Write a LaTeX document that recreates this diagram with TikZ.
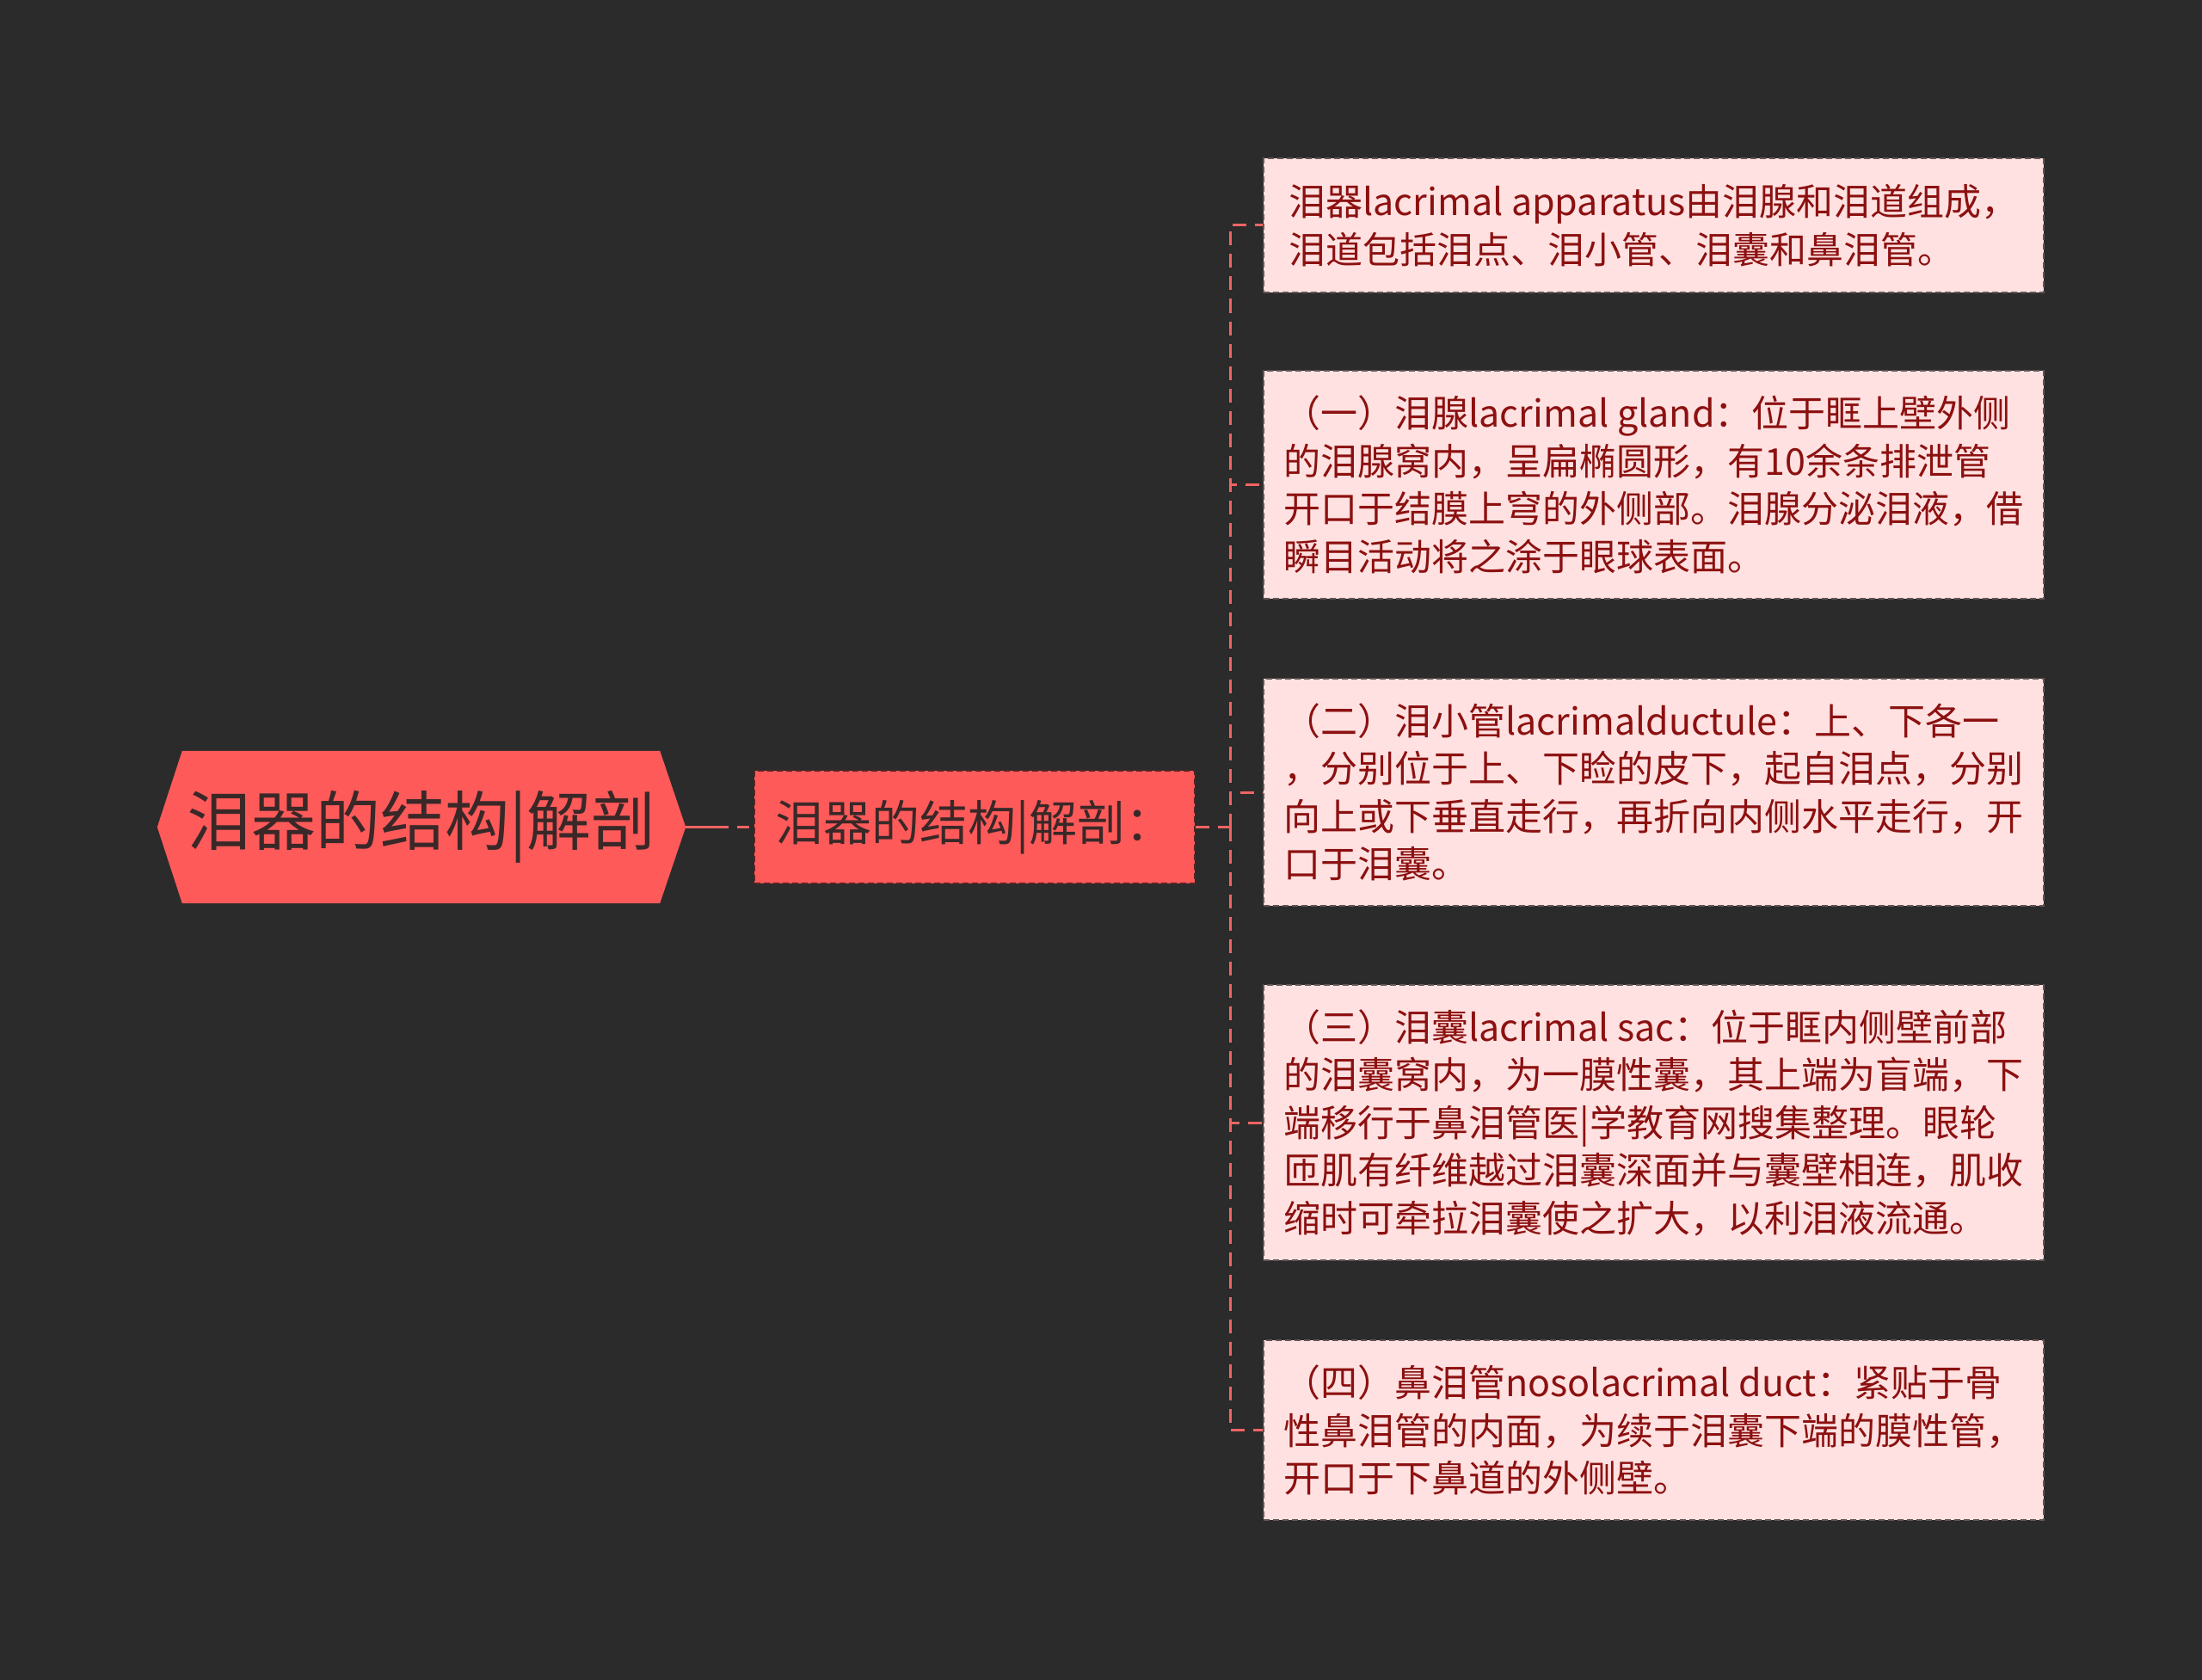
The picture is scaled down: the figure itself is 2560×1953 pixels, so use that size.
\documentclass[tikz,border=0pt]{standalone}
\usepackage{fontspec}
\setmainfont{Noto Sans CJK SC}
\usetikzlibrary{backgrounds}
\definecolor{bgc}{RGB}{43,43,43}
\definecolor{rootc}{RGB}{255,90,90}
\definecolor{roottxt}{RGB}{58,40,40}
\definecolor{midborder}{RGB}{90,35,35}
\definecolor{leaffill}{RGB}{255,225,225}
\definecolor{leafborder}{RGB}{100,85,85}
\definecolor{leaftxt}{RGB}{140,16,16}
\definecolor{connc}{RGB}{240,100,100}
\tikzset{
  roottext/.style={minimum width=614pt, minimum height=177pt, inner sep=0pt,
    text=roottxt, font=\fontsize{75}{82}\selectfont},
  midbox/.style={fill=rootc, draw=midborder, line width=2pt, dash pattern=on 7pt off 4pt,
    minimum width=512pt, minimum height=131pt, inner sep=0pt,
    text=roottxt, font=\fontsize{56}{62}\selectfont},
  leafbox/.style={fill=leaffill, draw=leafborder, line width=2pt, dash pattern=on 7pt off 4pt,
    minimum width=907pt, inner sep=0pt, align=left,
    text=leaftxt, font=\fontsize{43}{55.5}\selectfont},
  conn/.style={draw=connc, line width=3pt, dash pattern=on 16pt off 10pt},
}
\begin{document}
\begin{tikzpicture}[x=1pt,y=-1pt]
\begin{scope}[on background layer]
\fill[bgc] (0,0) rectangle (2560,1953);
\end{scope}
\useasboundingbox (0,0) rectangle (2560,1953);

\node[roottext] (root) at (490,961.5) {泪器的结构|解剖};
\begin{scope}[on background layer]
\fill[rootc] ([xshift=29pt]root.north west) -- ([xshift=-30pt]root.north east) -- (root.east)
  -- ([xshift=-30pt]root.south east) -- ([xshift=29pt]root.south west) -- (root.west) -- cycle;
\end{scope}

\node[midbox] (mid) at (1133,961.5) {泪器的结构|解剖：};
\coordinate (sp) at (1430,961.5);

\node[leafbox, minimum height=156pt] (l1) at (1922.5,262) {泪器lacrimal apparatus由泪腺和泪道组成，\\泪道包括泪点、泪小管、泪囊和鼻泪管。};
\node[leafbox, minimum height=265pt] (l2) at (1922.5,563.5) {（一）泪腺lacrimal gland：位于眶上壁外侧\\的泪腺窝内，呈扁椭圆形，有10余条排泄管\\开口于结膜上穹的外侧部。泪腺分泌泪液，借\\瞬目活动将之涂于眼球表面。};
\node[leafbox, minimum height=264pt] (l3) at (1922.5,921) {（二）泪小管lacrimalductule：上、下各一\\，分别位于上、下睑的皮下，起自泪点，分别\\向上或下垂直走行，再折向内侧水平走行，开\\口于泪囊。};
\node[leafbox, minimum height=320pt] (l4) at (1922.5,1305) {（三）泪囊lacrimal sac：位于眶内侧壁前部\\的泪囊窝内，为一膜性囊，其上端为盲端，下\\端移行于鼻泪管医|学教育网搜集整理。眼轮\\匝肌有纤维越过泪囊深面并与囊壁相连，肌收\\缩时可牵拉泪囊使之扩大，以利泪液流通。};
\node[leafbox, minimum height=209pt] (l5) at (1922.5,1662.5) {（四）鼻泪管nosolacrimal duct：紧贴于骨\\性鼻泪管的内面，为续于泪囊下端的膜性管，\\开口于下鼻道的外侧壁。};

\draw[conn, dash pattern=on 50pt off 10pt on 14pt off 10pt] (root.east) -- (mid.west);
\draw[conn] (mid.east) -- (sp);
\foreach \l in {l1,l2,l3,l4,l5} {
  \draw[conn] (sp) |- (\l.west);
}
\end{tikzpicture}
\end{document}
